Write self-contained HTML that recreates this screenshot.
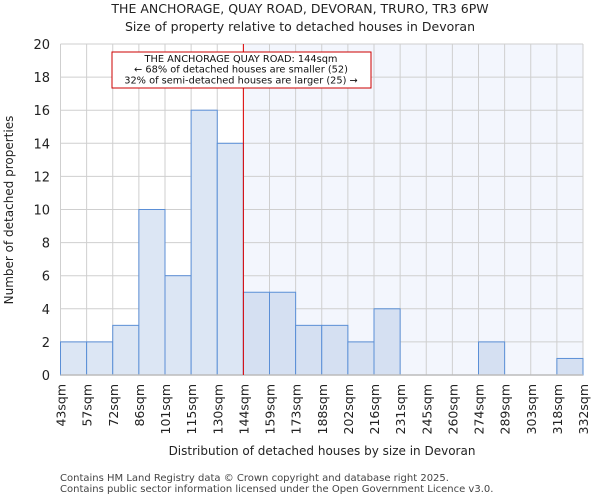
<!DOCTYPE html>
<html><head><meta charset="utf-8"><style>
body{margin:0;background:#fff;font-family:"DejaVu Sans","Liberation Sans",sans-serif}
</style></head><body>
<svg id="chart" width="600" height="500" xmlns="http://www.w3.org/2000/svg" font-family="DejaVu Sans, Liberation Sans, sans-serif">
<text x="300" y="13" text-anchor="middle" font-size="12.5" fill="#222">THE ANCHORAGE, QUAY ROAD, DEVORAN, TRURO, TR3 6PW</text>
<text x="300" y="31" text-anchor="middle" font-size="12.5" fill="#222">Size of property relative to detached houses in Devoran</text>
<g id="plot"></g>
<text x="322" y="455" text-anchor="middle" font-size="12" fill="#222">Distribution of detached houses by size in Devoran</text>
<text transform="translate(13,210) rotate(-90)" text-anchor="middle" font-size="12" fill="#222">Number of detached properties</text>
<text x="60" y="481" font-size="10" fill="#444">Contains HM Land Registry data © Crown copyright and database right 2025.</text>
<text x="60" y="492" font-size="10" fill="#444">Contains public sector information licensed under the Open Government Licence v3.0.</text>
</svg>
<script>
const labels=["43sqm","57sqm","72sqm","86sqm","101sqm","115sqm","130sqm","144sqm","159sqm","173sqm","188sqm","202sqm","216sqm","231sqm","245sqm","260sqm","274sqm","289sqm","303sqm","318sqm","332sqm"];
const counts=[2,2,3,10,6,16,14,5,5,3,3,2,4,0,0,0,2,0,0,1];
const yTicks=[0,2,4,6,8,10,12,14,16,18,20];
const markerIndex=7;
const NS="http://www.w3.org/2000/svg";
const g=document.getElementById("plot");
const x0=60.5,x1=583,y0=375,y1=44,yMax=20;
const bw=(x1-x0)/counts.length;
const X=i=>x0+i*bw;
const Y=v=>y0-(v/yMax)*(y0-y1);
function mk(t,a){const e=document.createElementNS(NS,t);for(const k in a)e.setAttribute(k,a[k]);g.appendChild(e);return e;}
let r=mk("rect",{x:X(markerIndex),y:y1,width:x1-X(markerIndex),height:y0-y1,fill:"#f3f6fd"});


for(let i=0;i<=counts.length;i++){let l=mk("line",{x1:X(i),x2:X(i),y1:y1,y2:y0,stroke:"#cfcfcf","stroke-width":1});

}
yTicks.forEach(v=>{let l=mk("line",{x1:x0,x2:x1,y1:Y(v),y2:Y(v),stroke:"#cfcfcf","stroke-width":1});


let t=mk("text",{x:50,y:Y(v)+5,"text-anchor":"end","font-size":"13",fill:"#222"});t.textContent=v;

});
counts.forEach((c,i)=>{if(c<=0)return;let b=mk("rect",{x:X(i),y:Y(c),width:bw,height:y0-Y(c),fill:i<markerIndex?"#dce6f4":"#d5e0f2",stroke:"#5b8fd6","stroke-width":1});

});
labels.forEach((s,i)=>{let t=mk("text",{transform:`translate(${X(i)+5},384) rotate(-90)`,"text-anchor":"end","font-size":"12.5",fill:"#222"});t.textContent=s;

});
let ax=mk("line",{x1:x0,x2:x1,y1:y0,y2:y0,stroke:"#bbb","stroke-width":1.5});


let m=mk("line",{x1:X(markerIndex),x2:X(markerIndex),y1:y1,y2:y0,stroke:"#e00000","stroke-width":1});


let box=mk("rect",{x:112,y:52,width:259,height:36,fill:"#fff",stroke:"#c00","stroke-width":1});


["THE ANCHORAGE QUAY ROAD: 144sqm","← 68% of detached houses are smaller (52)","32% of semi-detached houses are larger (25) →"].forEach((s,i)=>{let t=mk("text",{x:241,y:62+i*10.7,"text-anchor":"middle","font-size":"9.8",fill:"#111"});t.textContent=s;

});
</script>
</body></html>
